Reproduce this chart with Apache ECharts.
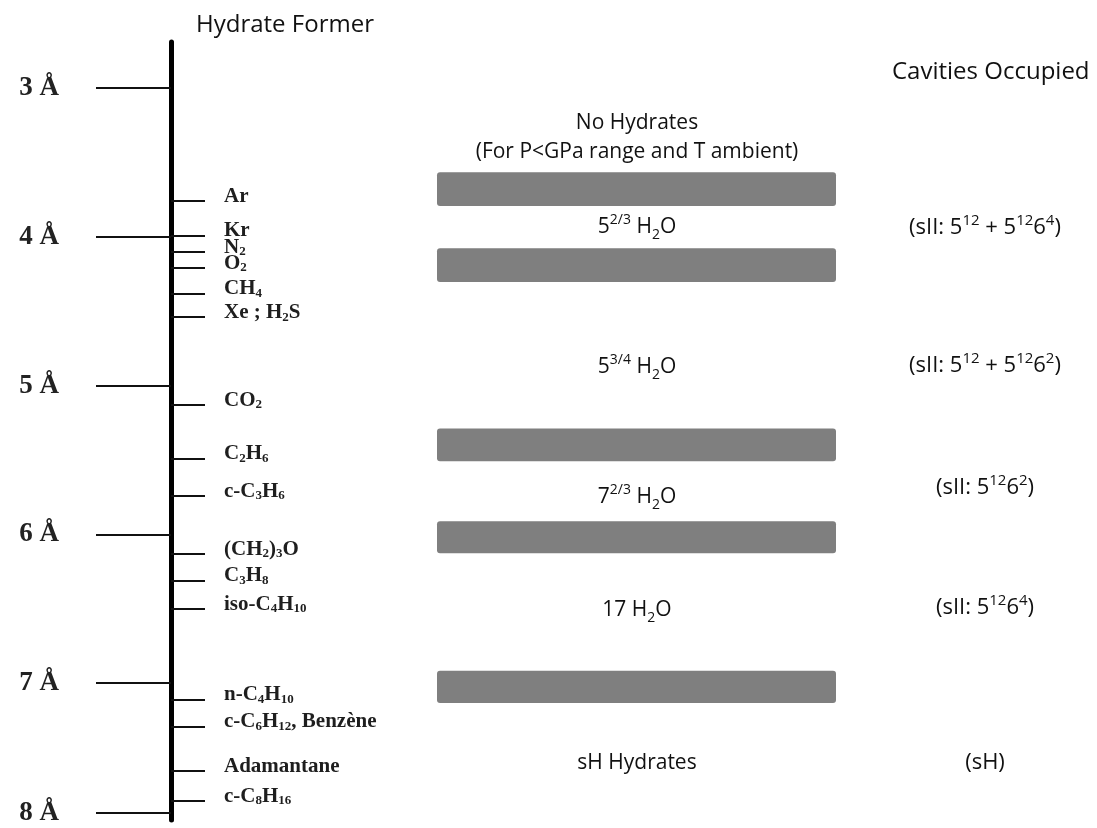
<!DOCTYPE html>
<html>
<head>
<meta charset="utf-8">
<title>Hydrate former sizes</title>
<script src="https://cdn.jsdelivr.net/npm/echarts@6.0.0/dist/echarts.min.js"></script>
<style>
  html, body { margin: 0; padding: 0; background: #fff; }
  #main { width: 1097px; height: 828px; }
</style>
</head>
<body>
<div id="main"></div>
<script>
// size scale marks (Å) - the 8 Å mark sits a little high in the source drawing
var sizeTicks = [3, 4, 5, 6, 7, 7.87];
var sizeTickLabels = ['3 Å', '4 Å', '5 Å', '6 Å', '7 Å', '8 Å'];

// hydrate formers and their size on the scale (Å)
var formers = ['Ar', 'Kr', 'N_2', 'O_2', 'CH_4', 'Xe ; H_2S', 'CO_2', 'C_2H_6', 'c-C_3H_6', '(CH_2)_3O',
  'C_3H_8', 'iso-C_4H_10', 'n-C_4H_10', 'c-C_6H_12, Benzène', 'Adamantane', 'c-C_8H_16'];
var formerSize = [3.76, 3.99, 4.10, 4.21, 4.38, 4.54, 5.13, 5.49, 5.74, 6.13,
  6.31, 6.50, 7.11, 7.29, 7.59, 7.79];

// grey bands between the structure ranges (top / bottom, Å)
var bandTop = [3.565, 4.076, 5.289, 5.911, 6.917];
var bandBottom = [3.793, 4.304, 5.508, 6.126, 7.134];

// hydration numbers in each range
var hydrateText = ['No Hydrates\n(For P<GPa range and T ambient)', '5^{2/3} H_2O', '5^{3/4} H_2O',
  '7^{2/3} H_2O', '17 H_2O', 'sH Hydrates'];
var hydrateSize = [3.331, 3.934, 4.876, 5.75, 6.509, 7.538];

// cavities occupied
var cavityText = ['(sII: 5^{12} + 5^{12}6^{4})', '(sII: 5^{12} + 5^{12}6^{2})', '(sII: 5^{12}6^{2})',
  '(sII: 5^{12}6^{4})', '(sH)'];
var cavitySize = [3.941, 4.869, 5.689, 6.496, 7.538];

// layout (x in px from the axis line)
var BAND_X0 = 266, BAND_X1 = 665, MID_X = 466, RIGHT_X = 814;

// turn "C_2H_6" / "5^{2/3}" into echarts rich text
function toRich(s) {
  return s.split(/(_\d+|\^\{[^}]*\})/).filter(function (p) { return p; }).map(function (p) {
    if (p[0] === '_') return '{s|' + p.slice(1) + '}';
    if (p[0] === '^') return '{u|' + p.slice(2, -1) + '}';
    return '{m|' + p + '}';
  }).join('');
}

function lookup(vals, names, v) {
  for (var i = 0; i < vals.length; i++) {
    if (Math.abs(vals[i] - v) < 1e-6) return names[i];
  }
  return '';
}

var serif = 'Liberation Serif';
var sans = 'Open Sans';
var ink = '#111';

function sansRich(size) {
  return {
    m: { fontFamily: sans, fontSize: size, lineHeight: 29, color: ink },
    u: { fontFamily: sans, fontSize: Math.round(size * 0.68), lineHeight: 16, verticalAlign: 'top', color: ink },
    s: { fontFamily: sans, fontSize: Math.round(size * 0.68), lineHeight: 18, verticalAlign: 'bottom', color: ink }
  };
}

var myChart = echarts.init(document.getElementById('main'));

myChart.setOption({
  animation: false,
  title: [
    { text: 'Hydrate Former', left: 191, top: 8, textStyle: { fontFamily: sans, fontSize: 24, fontWeight: 'normal', color: ink } },
    { text: 'Cavities Occupied', left: 887, top: 55, textStyle: { fontFamily: sans, fontSize: 24, fontWeight: 'normal', color: ink } }
  ],
  grid: { left: 171, top: 42, width: 926, height: 778 },
  xAxis: { type: 'value', min: 0, max: 926, show: false },
  yAxis: [
    {
      type: 'value', inverse: true, min: 2.69, max: 7.92, position: 'left',
      splitLine: { show: false },
      axisLine: { show: true, lineStyle: { color: '#000', width: 5 } },
      axisTick: { show: true, customValues: sizeTicks, length: 75, lineStyle: { color: '#111', width: 2 } },
      axisLabel: {
        customValues: sizeTicks, margin: 112,
        fontFamily: serif, fontWeight: 'bold', fontSize: 27, color: '#222',
        formatter: function (v) { return lookup(sizeTicks, sizeTickLabels, v); }
      }
    },
    {
      type: 'value', inverse: true, min: 2.69, max: 7.92, position: 'left', offset: 0,
      splitLine: { show: false },
      axisLine: { show: false },
      axisTick: { show: true, inside: true, customValues: formerSize, length: 34, lineStyle: { color: '#111', width: 2 } },
      axisLabel: {
        inside: true, customValues: formerSize, margin: 53, align: 'left',
        padding: [0, 0, 9, 0],
        formatter: function (v) { return toRich(lookup(formerSize, formers, v)); },
        rich: {
          m: { fontFamily: serif, fontWeight: 'bold', fontSize: 21, lineHeight: 22, color: '#1e1e1e' },
          s: { fontFamily: serif, fontWeight: 'bold', fontSize: 13, lineHeight: 12, verticalAlign: 'bottom', color: '#1e1e1e' }
        }
      }
    }
  ],
  series: [
    {
      type: 'custom',
      silent: true,
      data: bandTop.map(function (t, i) { return [t, bandBottom[i]]; }),
      renderItem: function (params, api) {
        var p0 = api.coord([BAND_X0, api.value(0)]);
        var p1 = api.coord([BAND_X1, api.value(1)]);
        return {
          type: 'rect',
          shape: { x: p0[0], y: p0[1], width: p1[0] - p0[0], height: p1[1] - p0[1], r: 3 },
          style: { fill: '#7f7f7f' }
        };
      }
    },
    {
      type: 'scatter',
      silent: true,
      symbolSize: 0,
      itemStyle: { opacity: 1 },
      data: hydrateSize.map(function (v, i) { return { value: [MID_X, v], name: hydrateText[i] }; }),
      label: {
        show: true, position: 'inside', align: 'center', opacity: 1,
        formatter: function (p) { return toRich(p.name); },
        rich: sansRich(21)
      }
    },
    {
      type: 'scatter',
      silent: true,
      symbolSize: 0,
      itemStyle: { opacity: 1 },
      data: cavitySize.map(function (v, i) { return { value: [RIGHT_X, v], name: cavityText[i] }; }),
      label: {
        show: true, position: 'inside', align: 'center', opacity: 1,
        formatter: function (p) { return toRich(p.name); },
        rich: sansRich(22)
      }
    }
  ]
});
</script>
</body>
</html>
